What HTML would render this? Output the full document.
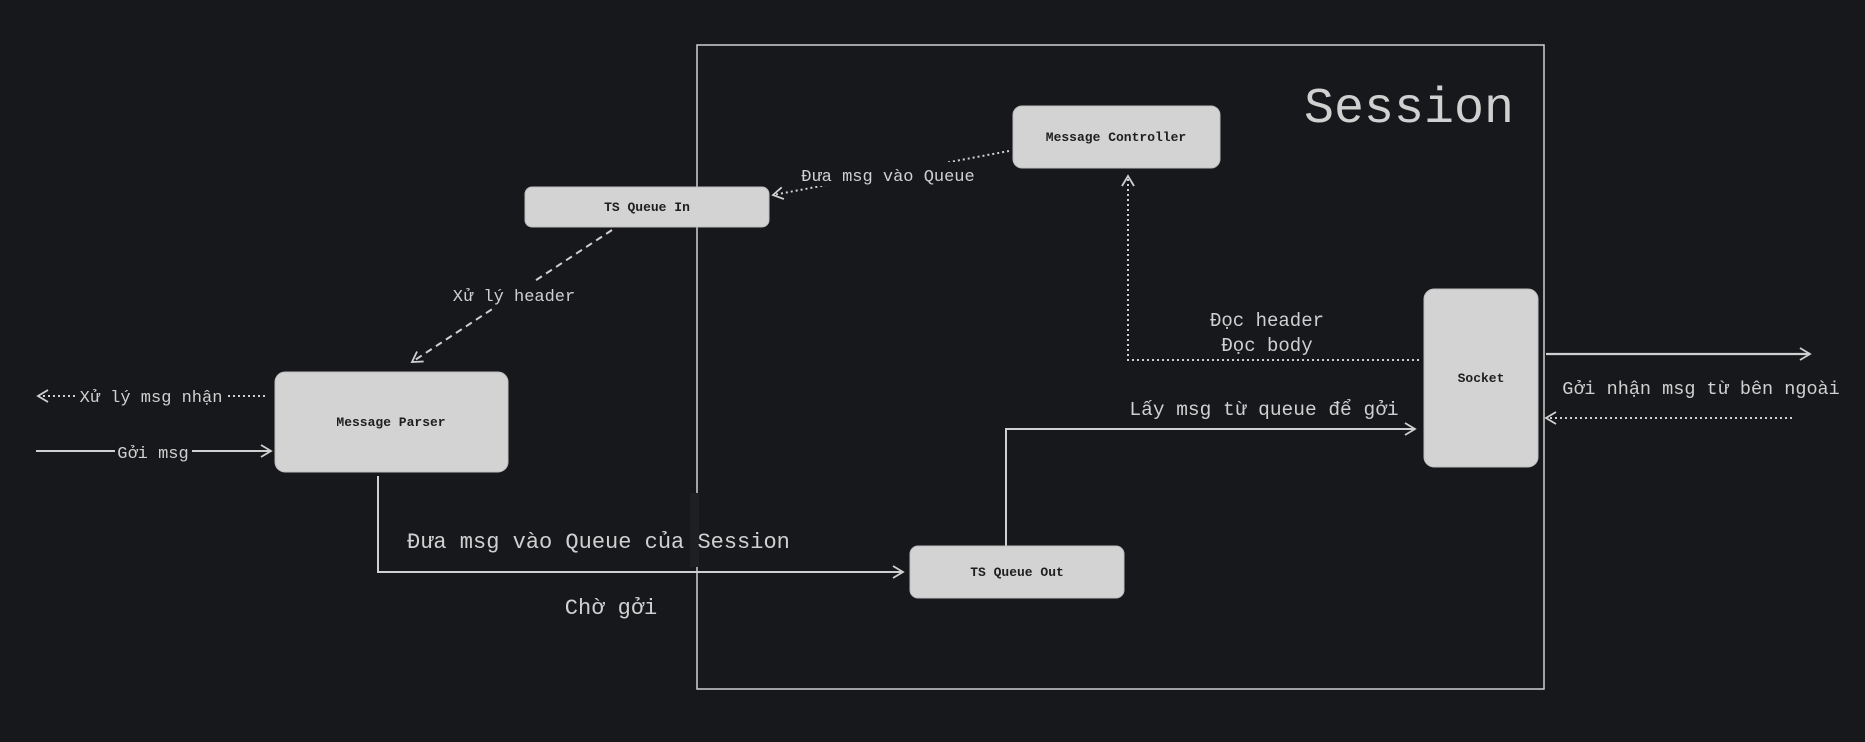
<!DOCTYPE html>
<html><head><meta charset="utf-8"><style>
html,body{margin:0;padding:0;background:#17181b;}
svg{display:block}
text{font-family:"Liberation Mono","DejaVu Sans Mono",monospace;fill:#d0d0d0}
.b{fill:#1e1e1e;font-weight:bold;font-size:13px}
</style></head><body>
<svg width="1865" height="742" viewBox="0 0 1865 742" xmlns="http://www.w3.org/2000/svg">
<defs>
<marker id="a" markerWidth="14" markerHeight="14" refX="11" refY="7" orient="auto" markerUnits="userSpaceOnUse">
<path d="M1,1 L11,7 L1,13" fill="none" stroke="#d0d0d0" stroke-width="1.8"/>
</marker>
</defs>
<rect width="1865" height="742" fill="#17181b"/>
<!-- session -->
<rect x="697" y="45" width="847" height="644" fill="none" stroke="#cfcfcf" stroke-width="1.5"/>
<text x="1514" y="122" text-anchor="end" font-size="50">Session</text>

<!-- connectors -->
<line x1="1009" y1="151" x2="773" y2="195" stroke="#d0d0d0" stroke-width="2" stroke-dasharray="2 3" marker-end="url(#a)"/>
<rect x="796" y="162" width="184" height="24" fill="#17181b"/>
<text x="888" y="181" text-anchor="middle" font-size="17">Đưa msg vào Queue</text>

<line x1="612" y1="230" x2="412" y2="362" stroke="#d0d0d0" stroke-width="2" stroke-dasharray="7 5" marker-end="url(#a)"/>
<rect x="450" y="282" width="128" height="26" fill="#17181b"/>
<text x="514" y="301" text-anchor="middle" font-size="17">Xử lý header</text>

<line x1="265" y1="396" x2="38" y2="396" stroke="#d0d0d0" stroke-width="2" stroke-dasharray="2 3" marker-end="url(#a)"/>
<rect x="76" y="384" width="150" height="24" fill="#17181b"/>
<text x="151" y="402" text-anchor="middle" font-size="17">Xử lý msg nhận</text>

<line x1="36" y1="451" x2="271" y2="451" stroke="#d0d0d0" stroke-width="2" marker-end="url(#a)"/>
<rect x="115" y="440" width="77" height="24" fill="#17181b"/>
<text x="153" y="458" text-anchor="middle" font-size="17">Gởi msg</text>

<polyline points="378,476 378,572 903,572" fill="none" stroke="#d0d0d0" stroke-width="2" marker-end="url(#a)"/>
<rect x="690" y="493" width="9" height="74" fill="#1d1f22"/>
<text x="407" y="548" font-size="22">Đưa msg vào Queue của Session</text>
<text x="611" y="614" text-anchor="middle" font-size="22">Chờ gởi</text>

<polyline points="1006,546 1006,429 1415,429" fill="none" stroke="#d0d0d0" stroke-width="2" marker-end="url(#a)"/>
<text x="1264" y="415" text-anchor="middle" font-size="19.5">Lấy msg từ queue để gởi</text>

<polyline points="1419,360 1128,360 1128,176" fill="none" stroke="#d0d0d0" stroke-width="2" stroke-dasharray="2 3" marker-end="url(#a)"/>
<text x="1267" y="326" text-anchor="middle" font-size="19">Đọc header</text>
<text x="1267" y="351" text-anchor="middle" font-size="19">Đọc body</text>

<line x1="1546" y1="354" x2="1810" y2="354" stroke="#d0d0d0" stroke-width="2.2" marker-end="url(#a)"/>
<line x1="1792" y1="418" x2="1546" y2="418" stroke="#d0d0d0" stroke-width="2" stroke-dasharray="2 3" marker-end="url(#a)"/>
<text x="1701" y="394" text-anchor="middle" font-size="18.5">Gởi nhận msg từ bên ngoài</text>

<!-- boxes -->
<rect x="1013" y="106" width="207" height="62" rx="9" fill="#d3d3d3" stroke="#bdbdbd"/>
<text class="b" x="1116" y="141" text-anchor="middle">Message Controller</text>
<rect x="525" y="187" width="244" height="40" rx="7" fill="#d3d3d3" stroke="#bdbdbd"/>
<text class="b" x="647" y="211" text-anchor="middle">TS Queue In</text>
<rect x="275" y="372" width="233" height="100" rx="10" fill="#d3d3d3" stroke="#bdbdbd"/>
<text class="b" x="391" y="426" text-anchor="middle">Message Parser</text>
<rect x="910" y="546" width="214" height="52" rx="8" fill="#d3d3d3" stroke="#bdbdbd"/>
<text class="b" x="1017" y="576" text-anchor="middle">TS Queue Out</text>
<rect x="1424" y="289" width="114" height="178" rx="10" fill="#d3d3d3" stroke="#bdbdbd"/>
<text class="b" x="1481" y="382" text-anchor="middle">Socket</text>
</svg>
</body></html>
